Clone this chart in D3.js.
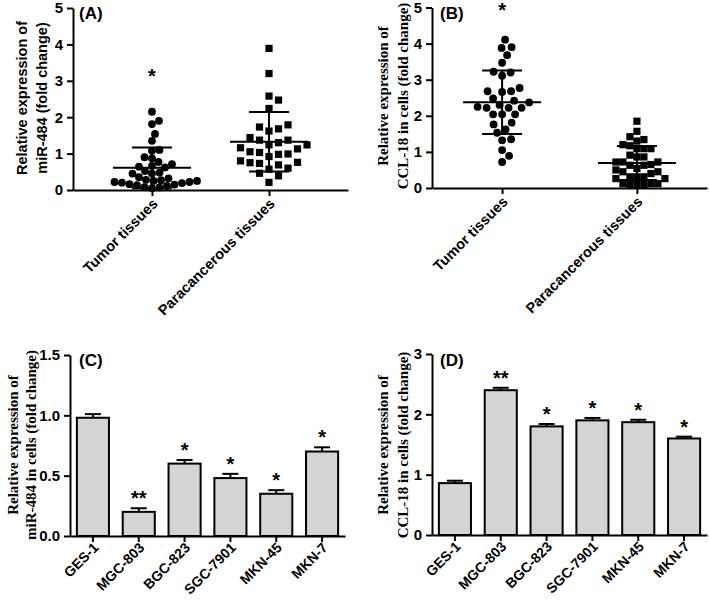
<!DOCTYPE html>
<html><head><meta charset="utf-8">
<script src="https://cdn.jsdelivr.net/npm/d3@7"></script>
<style>body{margin:0;background:#fff} svg{display:block}</style>
</head><body>
<svg id="c" width="709" height="600"></svg>
<script>
// ---------- data ----------
const scatterGroups = ["Tumor tissues", "Paracancerous tissues"];
const scatterTicks = [0, 1, 2, 3, 4, 5];
const mirTumor = [0.32,0.27,0.25,0.22,0.19,0.15,0.11,0.07,0.05,0.08,0.13,0.16,0.20,0.22,0.25,0.28,
  0.48,0.45,0.35,0.45,0.52,0.64,0.62,0.66,0.71,0.87,0.77,0.90,1.10,1.08,1.35,1.54,1.81,1.90,2.15];
const mirPara = [3.89,3.20,2.47,2.58,2.24,1.73,1.62,1.68,1.79,1.44,1.37,1.24,1.24,1.30,1.37,1.16,1.05,0.99,
  0.92,0.98,1.03,1.13,0.73,0.76,0.80,0.69,0.75,0.60,0.46,0.57,0.39,0.21];
const cclTumor = [4.11,3.68,3.88,3.90,3.47,3.22,3.11,3.20,2.77,2.68,2.66,2.68,2.48,2.42,2.37,2.22,2.22,2.30,
  2.22,2.25,2.04,2.04,2.04,1.76,1.81,1.62,1.53,1.32,1.35,1.05,0.89,0.72];
const cclPara = [1.85,1.57,1.42,1.34,1.20,1.30,1.17,1.09,1.09,1.09,0.91,0.86,0.86,0.63,0.65,0.72,0.72,0.72,
  0.63,0.45,0.40,0.54,0.45,0.50,0.31,0.26,0.31,0.31,0.26,0.12,0.10,0.10,0.12,0.12,0.10];
const scatterSig = ["*", ""];

const cellLines = ["GES-1", "MGC-803", "BGC-823", "SGC-7901", "MKN-45", "MKN-7"];
const mirCells = [0.98, 0.20, 0.60, 0.48, 0.35, 0.70];
const mirCellsErr = [0.03, 0.03, 0.03, 0.035, 0.03, 0.035];
const mirTicks = [0, 0.5, 1.0, 1.5];
const cclCells = [0.86, 2.40, 1.80, 1.90, 1.87, 1.60];
const cclCellsErr = [0.04, 0.04, 0.04, 0.04, 0.04, 0.03];
const cclTicks = [0, 1, 2, 3];
const cellSig = ["", "**", "*", "*", "*", "*"];

// ---------- drawing ----------
const svg = d3.select("#c");
const SANS = "'Liberation Sans', Arial, sans-serif";
const SERIF = "'Liberation Serif', 'Times New Roman', serif";

function styleAxis(g) {
  g.selectAll("path.domain").attr("stroke", "#000").attr("stroke-width", 2);
  g.selectAll(".tick line").attr("stroke", "#000").attr("stroke-width", 2);
  g.selectAll(".tick text").attr("fill", "#000").style("font-family", SANS)
    .style("font-weight", "bold").style("font-size", "15px");
}

function yLabel(x1, x2, cy, lines, font, size) {
  [x1, x2].forEach((x, i) => {
    svg.append("text").attr("transform", `translate(${x},${cy}) rotate(-90)`)
      .attr("text-anchor", "middle").attr("dominant-baseline", "central")
      .style("font-family", font).style("font-weight", "bold").style("font-size", size + "px")
      .text(lines[i]);
  });
}

function panelLabel(x, y, t) {
  svg.append("text").attr("x", x).attr("y", y).style("font-family", SANS)
    .style("font-weight", "bold").style("font-size", "17px").text(t);
}

function swarm(values, y, minDist, step, square) {
  const order = values.map((v, i) => i).sort((a, b) => values[a] - values[b]);
  const placed = [], offs = new Array(values.length);
  for (const i of order) {
    const py = y(values[i]);
    for (let k = 0; ; k++) {
      const dx = k === 0 ? 0 : (k % 2 ? Math.ceil(k / 2) : -k / 2) * step;
      const ok = placed.every(p => square
        ? Math.max(Math.abs(p.x - dx), Math.abs(p.y - py)) >= minDist
        : Math.hypot(p.x - dx, p.y - py) >= minDist);
      if (ok) { offs[i] = dx; placed.push({x: dx, y: py}); break; }
    }
  }
  return offs;
}

function catLabels(names, xpos, y0, size, dyOff) {
  const g = svg.append("g");
  names.forEach(n => {
    g.append("g").attr("transform", `translate(${xpos(n) + 3},${y0 + dyOff}) rotate(-45)`)
      .append("text").attr("text-anchor", "end").attr("dy", "0.35em")
      .style("font-family", SANS).style("font-weight", "bold").style("font-size", size + "px")
      .text(n);
  });
}

function scatterPanel(o) {
  const x = d3.scalePoint().domain(scatterGroups).range([o.x0, o.x1]).padding(o.pad);
  const y = d3.scaleLinear().domain([0, 5]).range([o.y0, o.y1]);
  const gy = svg.append("g").attr("transform", `translate(${o.x0},0)`)
    .call(d3.axisLeft(y).tickValues(scatterTicks).tickFormat(d3.format("d")).tickSize(6).tickSizeOuter(0).tickPadding(4));
  styleAxis(gy);
  const gx = svg.append("g").attr("transform", `translate(0,${o.y0})`)
    .call(d3.axisBottom(x).tickSize(6).tickSizeOuter(0).tickFormat(""));
  styleAxis(gx);
  catLabels(scatterGroups, x, o.y0, 14.5, 11);

  o.series.forEach((vals, si) => {
    const cx = x(scatterGroups[si]);
    const sq = si === 1;
    const offs = swarm(vals, y, o.dist[si], 0.5, sq);
    const g = svg.append("g");
    if (sq) {
      g.selectAll("rect").data(vals).join("rect")
        .attr("x", (d, i) => cx + offs[i] - 3.6).attr("y", d => y(d) - 3.6)
        .attr("width", 7.2).attr("height", 7.2).attr("fill", "#000");
    } else {
      g.selectAll("circle").data(vals).join("circle")
        .attr("cx", (d, i) => cx + offs[i]).attr("cy", d => y(d)).attr("r", 3.9).attr("fill", "#000");
    }
    const m = d3.mean(vals), s = d3.deviation(vals);
    const ln = (x1, y1, x2, y2) => svg.append("line").attr("x1", x1).attr("y1", y1).attr("x2", x2).attr("y2", y2)
      .attr("stroke", "#000").attr("stroke-width", 2);
    ln(cx - 39, y(m), cx + 39, y(m));
    ln(cx - 20, y(m + s), cx + 20, y(m + s));
    ln(cx - 20, y(Math.max(0, m - s)), cx + 20, y(Math.max(0, m - s)));
    ln(cx, y(m + s), cx, y(Math.max(0, m - s)));
    if (scatterSig[si]) {
      svg.append("text").attr("x", cx).attr("y", y(o.starAt)).attr("text-anchor", "middle")
        .style("font-family", SANS).style("font-weight", "bold").style("font-size", "20px").text(scatterSig[si]);
    }
  });
}

function barPanel(o) {
  const x = d3.scaleBand().domain(cellLines).range([o.x0, o.x1]).paddingInner(0.3).paddingOuter(0.15);
  const y = d3.scaleLinear().domain([0, o.ticks[o.ticks.length - 1]]).range([o.y0, o.y1]);
  svg.append("g").selectAll("rect").data(o.vals).join("rect")
    .attr("x", (d, i) => x(cellLines[i])).attr("y", d => y(d))
    .attr("width", x.bandwidth()).attr("height", d => o.y0 - y(d))
    .attr("fill", "#d4d4d4").attr("stroke", "#000").attr("stroke-width", 2);
  const eg = svg.append("g").attr("stroke", "#000").attr("stroke-width", 2);
  o.vals.forEach((v, i) => {
    const cx = x(cellLines[i]) + x.bandwidth() / 2;
    eg.append("line").attr("x1", cx).attr("x2", cx).attr("y1", y(v)).attr("y2", y(v + o.err[i]));
    eg.append("line").attr("x1", cx - 8).attr("x2", cx + 8).attr("y1", y(v + o.err[i])).attr("y2", y(v + o.err[i]));
    if (cellSig[i]) {
      svg.append("text").attr("x", cx).attr("y", y(v + o.err[i]) - 3).attr("text-anchor", "middle")
        .style("font-family", SANS).style("font-weight", "bold").style("font-size", "20px").text(cellSig[i]);
    }
  });
  const gy = svg.append("g").attr("transform", `translate(${o.x0},0)`)
    .call(d3.axisLeft(y).tickValues(o.ticks).tickFormat(o.fmt).tickSize(6).tickSizeOuter(0).tickPadding(4));
  styleAxis(gy);
  const gx = svg.append("g").attr("transform", `translate(0,${o.y0})`)
    .call(d3.axisBottom(x).tickSize(6).tickSizeOuter(0).tickFormat(""));
  styleAxis(gx);
  const xc = n => x(n) + x.bandwidth() / 2;
  catLabels(cellLines, xc, o.y0, 14, 9);
}

// Panel A
scatterPanel({x0: 73, x1: 348, pad: 0.675, y0: 190, y1: 8, series: [mirTumor, mirPara], dist: [7.4, 9.5], starAt: 2.95});
panelLabel(79, 19, "(A)");
yLabel(22, 42, 98, ["Relative  expression of", "miR-484 (fold change)"], SANS, 14.5);

// Panel B
scatterPanel({x0: 432, x1: 707, pad: 0.52, y0: 188, y1: 7.5, series: [cclTumor, cclPara], dist: [9, 7], starAt: 4.75});
panelLabel(440, 19, "(B)");
yLabel(383, 403, 96, ["Relative expression of", "CCL-18 in cells (fold change)"], SERIF, 15);

// Panel C
barPanel({x0: 70, x1: 345, y0: 536, y1: 355, vals: mirCells, err: mirCellsErr, ticks: mirTicks, fmt: d3.format(".1f")});
panelLabel(79, 366, "(C)");
yLabel(13, 31, 445, ["Relative expression of", "miR-484 in cells (fold change)"], SERIF, 15);

// Panel D
barPanel({x0: 432, x1: 707, y0: 535, y1: 354, vals: cclCells, err: cclCellsErr, ticks: cclTicks, fmt: d3.format("d")});
panelLabel(440, 366, "(D)");
yLabel(383, 403, 445, ["Relative expression of", "CCL-18 in cells (fold change)"], SERIF, 15);
</script>
</body></html>
